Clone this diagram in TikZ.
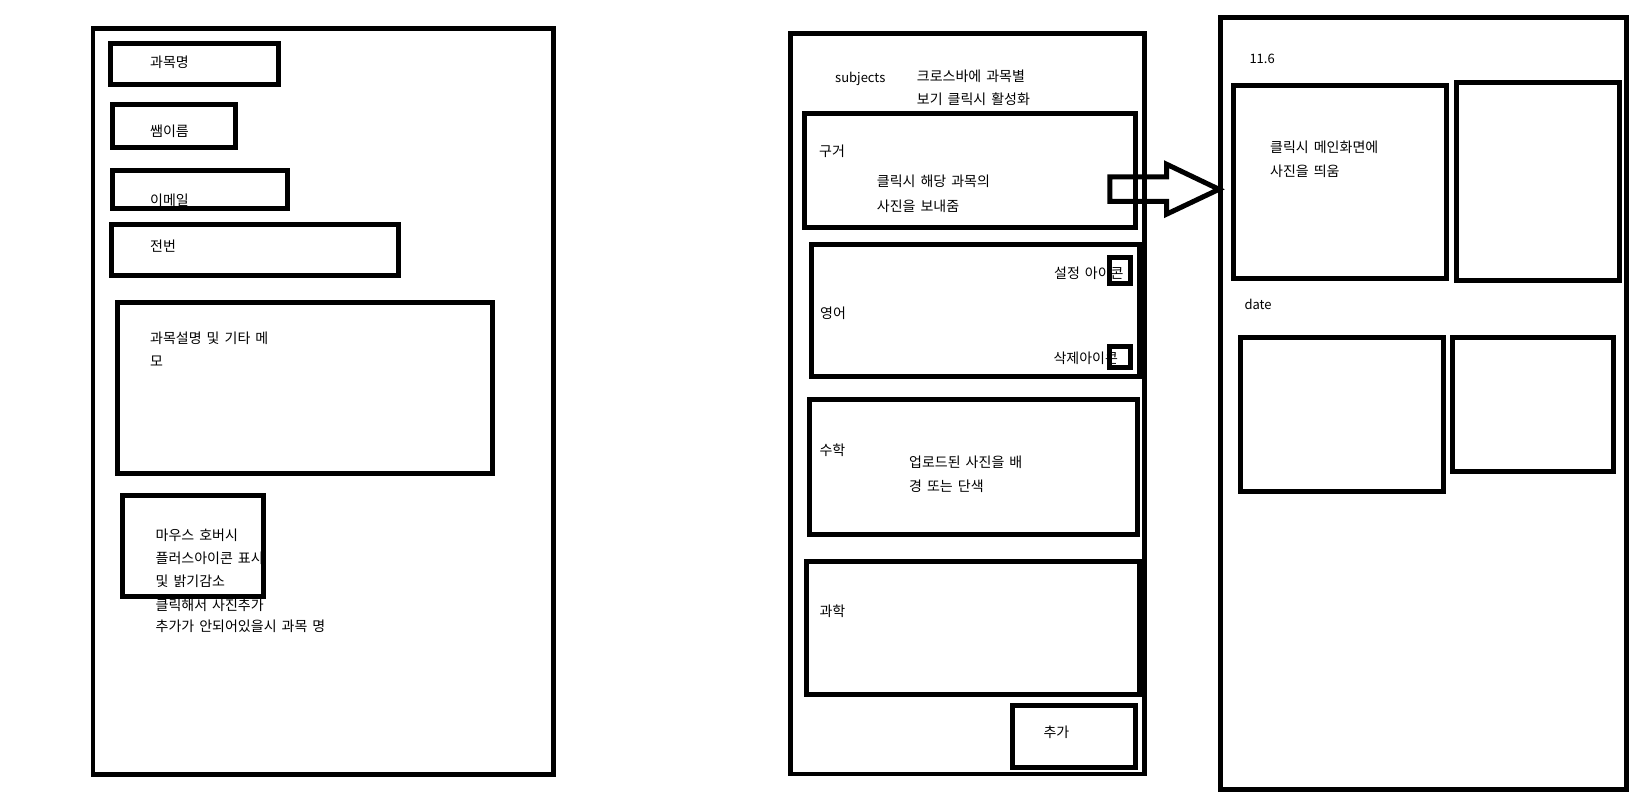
\documentclass[tikz,border=0pt]{standalone}
\usepackage{fontspec}
\newfontfamily\kr[WordSpace={1.6}]{Noto Sans CJK KR}
\begin{document}
\begin{tikzpicture}[x=1pt,y=-1pt,
  boxline/.style={draw=black,line width=5pt},
  frameline/.style={draw=black,line width=4.8pt},
  lbl/.style={anchor=base west,inner sep=0pt,font=\kr\fontsize{14}{16}\selectfont},
  lat/.style={anchor=base west,inner sep=0pt,font=\kr\fontsize{13}{15}\selectfont}]
\useasboundingbox (0,0) rectangle (1636,810);
\fill[white] (0,0) rectangle (1636,810);
% ---------- left screen texts ----------
\node[lbl] (t1) at (150,67.8) {과목명};
\node[lbl] (t2) at (150,136.8) {쌤이름};
\node[lbl] (t3) at (150,205.1) {이메일};
\node[lbl] (t4) at (150,251.8) {전번};
\node[lbl] (t5a) at (150,343.4) {과목설명 및 기타 메};
\node[lbl] (t5b) at (150,366.1) {모};
\node[lbl] (t6a) at (155.5,540.1) {마우스 호버시};
\node[lbl] (t6b) at (155.5,563.4) {플러스아이콘 표시};
\node[lbl] (t6c) at (155.5,586.8) {및 밝기감소};
\node[lbl] (t6d) at (155.5,610.1) {클릭해서 사진추가};
\node[lbl] (t6e) at (155.5,631.8) {추가가 안되어있을시 과목 명};
% ---------- left screen boxes ----------
\draw[frameline] (93,28.5) rectangle (553.3,774.2);
\draw[boxline] (110.7,43.3) rectangle (278.3,84.3);
\draw[boxline] (112.3,104.3) rectangle (235.3,147.3);
\draw[boxline] (112.3,170.3) rectangle (287.3,208.3);
\draw[boxline] (111.6,224.3) rectangle (398.3,275.3);
\draw[boxline] (117.3,302.3) rectangle (492.7,473.7);
\draw[boxline] (122.3,495.6) rectangle (263.7,596.4);
% ---------- middle screen texts ----------
\node[lat] (m0) at (835,82.4) {subjects};
\node[lbl] (m1a) at (916.7,81.1) {크로스바에 과목별};
\node[lbl] (m1b) at (916.7,104.1) {보기 클릭시 활성화};
\node[lbl] (m2) at (819,156.8) {구거};
\node[lbl] (m2a) at (876.7,186.8) {클릭시 해당 과목의};
\node[lbl] (m2b) at (876.7,211.1) {사진을 보내줌};
\node[lbl] (m3) at (820,318.4) {영어};
\node[lbl] (m3a) at (1054,278.4) {설정 아이콘};
\node[lbl] (m3b) at (1053.3,363.4) {삭제아이콘};
\node[lbl] (m4) at (819.3,455.1) {수학};
\node[lbl] (m4a) at (909,467.8) {업로드된 사진을 배};
\node[lbl] (m4b) at (909,491.1) {경 또는 단색};
\node[lbl] (m5) at (819.3,616.8) {과학};
\node[lbl] (m6) at (1043.3,737.8) {추가};
% ---------- middle screen boxes ----------
\draw[frameline] (790.8,33.3) rectangle (1144.3,774);
\draw[boxline] (804.8,113.5) rectangle (1135.2,227.5);
\draw[boxline] (811.8,244.5) rectangle (1139.3,376.5);
\draw[boxline] (1109.8,257.5) rectangle (1130.2,283.2);
\draw[boxline] (1109.8,346.5) rectangle (1130.2,367.5);
\draw[boxline] (809.8,399.8) rectangle (1137.3,534.2);
\draw[boxline] (806.5,561.5) rectangle (1139.3,694.2);
\draw[boxline] (1012.5,705.8) rectangle (1135.4,767.4);
% ---------- right screen texts ----------
\node[lat] (r0) at (1249.3,63.7) {11.6};
\node[lbl] (r1a) at (1270,152.8) {클릭시 메인화면에};
\node[lbl] (r1b) at (1270,176.1) {사진을 띄움};
\node[lat] (r2) at (1244.3,309.2) {date};
% ---------- right screen boxes ----------
\draw[frameline] (1220.5,17.8) rectangle (1626.5,789.2);
\draw[boxline] (1233.5,85.8) rectangle (1446.2,278.5);
\draw[boxline] (1456.5,82.5) rectangle (1619.2,280.8);
\draw[boxline] (1240.5,337.5) rectangle (1443.2,491.8);
\draw[boxline] (1452.5,337.5) rectangle (1613.2,471.8);
% ---------- block arrow ----------
\coordinate (atail) at (1109.8,189.2);
\coordinate (atip) at (1219,189.3);
\draw[boxline,line join=miter]
  (1109.8,176.8) -- (1166.5,176.8) -- (1166.5,164.2) -- (atip)
  -- (1166.5,214.2) -- (1166.5,201.5) -- (1109.8,201.5) -- cycle;
\end{tikzpicture}
\end{document}
